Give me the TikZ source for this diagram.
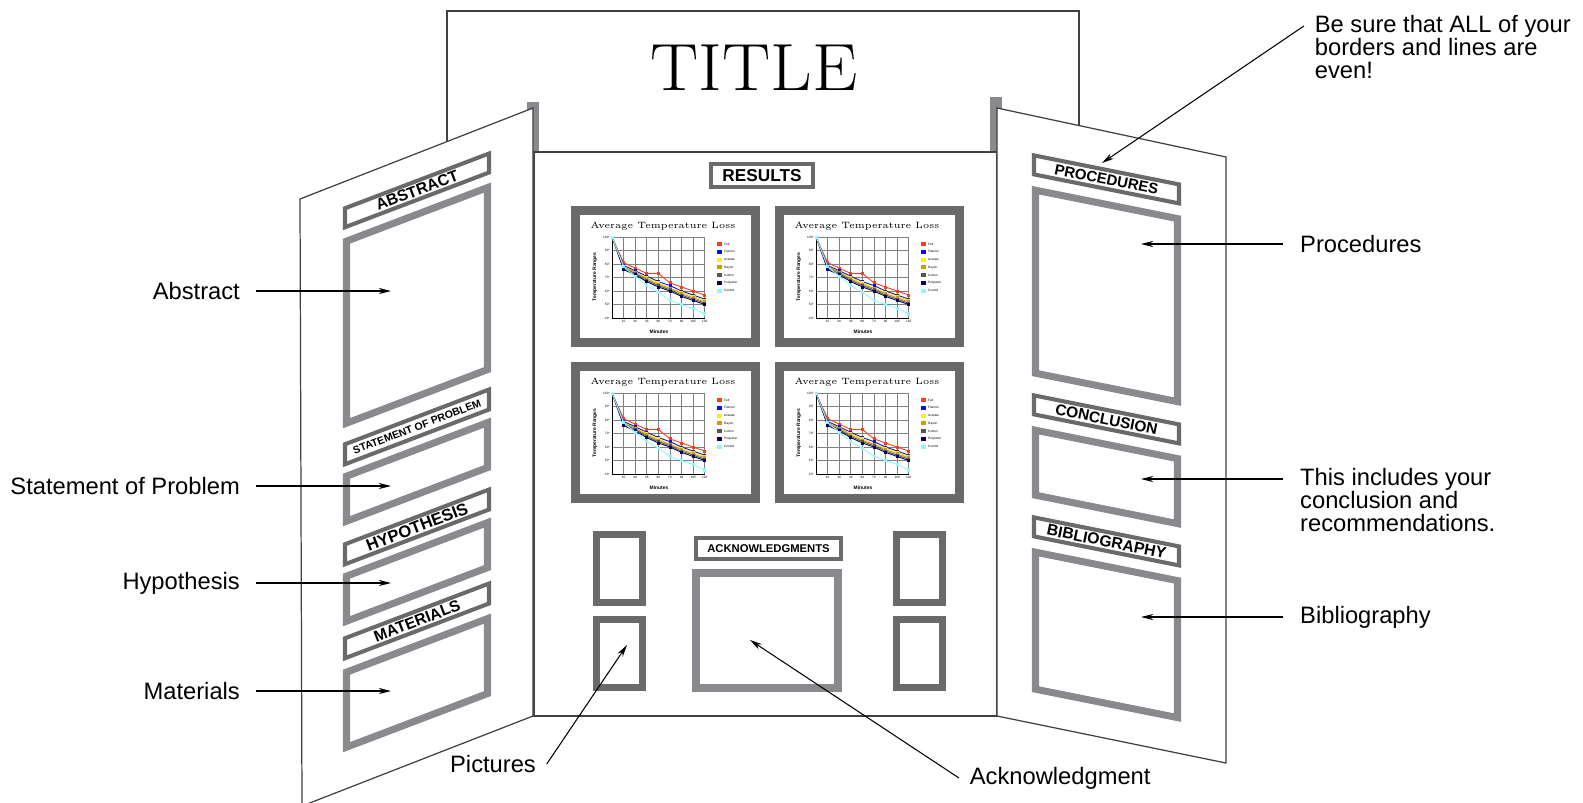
\documentclass[tikz,border=0pt]{standalone}
\usepackage{fontspec}
\setsansfont{Liberation Sans}
\usetikzlibrary{arrows.meta,plotmarks}
\definecolor{framegray}{HTML}{8A8A8E}
\definecolor{darkframe}{HTML}{6A6A6A}
\definecolor{edgegray}{HTML}{404040}
\definecolor{felt}{HTML}{FF3B1F}
\definecolor{flannel}{HTML}{0010FF}
\definecolor{acetate}{HTML}{FFF200}
\definecolor{rayon}{HTML}{D09A00}
\definecolor{cotton}{HTML}{555555}
\definecolor{polyester}{HTML}{000066}
\definecolor{control}{HTML}{8CF8FF}

\tikzset{
  tempchart/.pic={
    \draw[darkframe,line width=5.1pt,fill=white] (4.5,4.5) rectangle (184.5,136.5);
    \node[font=\rmfamily\fontsize{5.2}{6}\selectfont] at (92,20) {Average Temperature Loss};
    \node[font=\sffamily\bfseries\fontsize{2.8}{3}\selectfont,rotate=90] at (24,71) {Temperature Ranges};
    \node[font=\sffamily\bfseries\fontsize{2.8}{3}\selectfont] at (88,126) {Minutes};
    \foreach \k in {0,...,8}
      \draw[gray,line width=0.5pt] ({41+11.6*\k},31) -- ({41+11.6*\k},112);
    \foreach \k in {0,...,6}
      \draw[gray,line width=0.5pt] (41,{31+13.5*\k}) -- (133.8,{31+13.5*\k});
    \draw[black,line width=0.4pt] (41,31) -- (41,112) -- (133.8,112);
    \foreach \k [evaluate=\k as \t using int(100-10*\k)] in {0,...,6}
      \node[font=\sffamily\fontsize{1.8}{2}\selectfont,anchor=east,inner sep=0.5pt] at (40,{31+13.5*\k}) {\t°};
    \foreach \k [evaluate=\k as \m using int(15*\k)] in {1,...,8}
      \node[font=\sffamily\fontsize{1.8}{2}\selectfont,inner sep=0.5pt] at ({41+11.6*\k},115.5) {\m};
    \begin{scope}[shift={(41,166)},x=0.01547cm,y=0.027cm,line width=0.5pt,mark size=0.6pt]
      \draw[felt,mark=square*] plot coordinates {(0,100) (15,81) (30,77) (45,73) (60,73) (75,66) (90,63) (105,60) (120,57)};
      \draw[flannel,mark=square*] plot coordinates {(0,100) (15,79) (30,75) (45,71) (60,67) (75,64) (90,60) (105,57) (120,54)};
      \draw[acetate,mark=square*] plot coordinates {(0,100) (15,78) (30,74) (45,70) (60,66) (75,62) (90,59) (105,56) (120,53)};
      \draw[rayon,mark=square*] plot coordinates {(0,100) (15,78) (30,74) (45,69) (60,65) (75,62) (90,58) (105,55) (120,52)};
      \draw[cotton,mark=square*] plot coordinates {(0,100) (15,77) (30,73) (45,68) (60,64) (75,61) (90,57) (105,54) (120,51)};
      \draw[polyester,mark=square*] plot coordinates {(0,100) (15,76) (30,72) (45,67) (60,63) (75,60) (90,56) (105,53) (120,50)};
      \draw[control,mark=square*] plot coordinates {(0,100) (15,78) (30,71) (45,64) (60,59) (75,53) (90,50) (105,47) (120,43)};
    \end{scope}
    \foreach \c/\s [count=\k from 0] in {felt/Felt,flannel/Flannel,acetate/Acetate,rayon/Rayon,cotton/Cotton,polyester/Polyester,control/Control}{
      \fill[\c] (146,{36+7.8*\k}) rectangle ++(5,4);
      \node[font=\sffamily\fontsize{1.8}{2}\selectfont,anchor=west,inner sep=0.5pt] at (152,{38+7.8*\k}) {\s};
    }
  }
}

\begin{document}
\begin{tikzpicture}[x=0.02cm,y=-0.02cm,
board/.style={draw=edgegray,fill=white,line width=0.7pt},
tagbox/.style={draw=darkframe,line width=2.3pt},
mainbox/.style={draw=framegray,line width=4pt},
picbox/.style={draw=darkframe,line width=4pt},
tagtext/.style={font=\sffamily\bfseries\fontsize{#1}{#1}\selectfont,inner sep=0pt},
note/.style={font=\sffamily\fontsize{13.5}{13.3}\selectfont,align=left,inner xsep=6pt,inner ysep=0pt},
leftnote/.style={note,inner xsep=9pt,anchor=east},
rightnote/.style={note,inner xsep=9.6pt,anchor=west},
pointer/.style={-{Stealth[length=7pt,width=3.5pt]},line width=0.6pt}]

% back board with the title
\draw[board] (447,11) rectangle (1079,300);
\node[font=\rmfamily\fontsize{38}{40}\selectfont,anchor=base,xscale=1.08] (title) at (754,90) {TITLE};
\fill[framegray] (527,102) rectangle (539,152);
\fill[framegray] (990,97) rectangle (1002,152);

% centre panel
\draw[board] (534,152) rectangle (997,716);
\draw[tagbox] (711,164) rectangle (813,187);
\node[tagtext=9.8] (results) at (762,175.5) {RESULTS};
\pic at (571,206) {tempchart};
\pic at (775,206) {tempchart};
\pic at (571,362) {tempchart};
\pic at (775,362) {tempchart};
\draw[picbox] (596.5,534.5) rectangle (642.5,602.5);
\draw[picbox] (596.5,619.5) rectangle (642.5,687.5);
\draw[picbox] (896.5,534.5) rectangle (942.5,602.5);
\draw[picbox] (896.5,619.5) rectangle (942.5,687.5);
\draw[tagbox,line width=2pt] (696,538) rectangle (841,559);
\node[tagtext=6.4] (ack) at (768.5,548.5) {ACKNOWLEDGMENTS};
\draw[mainbox,line width=4.5pt] (696,573) rectangle (838,688);

% left panel
\draw[board] (300,199) -- (533,108) -- (533,716) -- (302,806) -- cycle;
\begin{scope}[shift={(343,0)},yslant=0.38]
  \draw[tagbox] (2,209) rectangle (146,228);
  \node[tagtext=9,rotate=20.8] (abstract) at (74,218.5) {ABSTRACT};
  \draw[mainbox] (3.5,242.5) rectangle (144.5,424.5);
  \draw[tagbox] (2,445) rectangle (146,465);
  \node[tagtext=6,rotate=20.8] (statement) at (74,455) {STATEMENT OF PROBLEM};
  \draw[mainbox] (3.5,477.5) rectangle (144.5,522.5);
  \draw[tagbox] (2,545) rectangle (146,565);
  \node[tagtext=9.5,rotate=20.8] (hypothesis) at (74,555) {HYPOTHESIS};
  \draw[mainbox] (3.5,577.5) rectangle (144.5,622.5);
  \draw[tagbox] (2,639) rectangle (146,659);
  \node[tagtext=9,rotate=20.8] (materials) at (74,649) {MATERIALS};
  \draw[mainbox] (3.5,673.5) rectangle (144.5,748.5);
\end{scope}

% right panel
\draw[board] (997,108) -- (1226,157) -- (1226,763) -- (997,716) -- cycle;
\begin{scope}[shift={(1032,0)},yslant=-0.2]
  \draw[tagbox] (2,155) rectangle (147,174);
  \node[tagtext=8.5,rotate=-11.3] (procedures) at (74.5,164.5) {PROCEDURES};
  \draw[mainbox] (3.5,189.5) rectangle (145.5,372.5);
  \draw[tagbox] (2,395) rectangle (147,414);
  \node[tagtext=8.8,rotate=-11.3] (conclusion) at (74.5,404.5) {CONCLUSION};
  \draw[mainbox] (3.5,429.5) rectangle (145.5,494.5);
  \draw[tagbox] (2,517) rectangle (147,536);
  \node[tagtext=9,rotate=-11.3] (bibliography) at (74.5,526.5) {BIBLIOGRAPHY};
  \draw[mainbox] (3.5,551.5) rectangle (145.5,688.5);
\end{scope}

% notes and pointers
\coordinate (abstracttip) at (391,291);
\coordinate (statementtip) at (391,486);
\coordinate (hypothesistip) at (391,583);
\coordinate (materialstip) at (391,691);
\coordinate (procedurestip) at (1141,244);
\coordinate (conclusiontip) at (1141,479);
\coordinate (bibliographytip) at (1141,617);
\coordinate (suretip) at (1102,163);
\coordinate (picturestip) at (627,645);
\coordinate (acktip) at (750,640);

\node[leftnote] (abstractnote) at (256,291) {Abstract};
\node[leftnote] (statementnote) at (256,486) {Statement of Problem};
\node[leftnote] (hypothesisnote) at (256,583) {Hypothesis};
\node[leftnote] (materialsnote) at (256,691) {Materials};
\draw[pointer] (abstractnote.east) -- (abstracttip);
\draw[pointer] (statementnote.east) -- (statementtip);
\draw[pointer] (hypothesisnote.east) -- (hypothesistip);
\draw[pointer] (materialsnote.east) -- (materialstip);

\node[rightnote] (proceduresnote) at (1283,244) {Procedures};
\node[rightnote,anchor=north west] (conclusionnote) at (1283,467.5) {This includes your\\conclusion and\\recommendations.};
\node[rightnote] (bibliographynote) at (1283,617) {Bibliography};
\node[note,anchor=north west] (surenote) at (1304,14.5) {Be sure that ALL of your\\borders and lines are\\even!};
\draw[pointer] (proceduresnote.west) -- (procedurestip);
\draw[pointer] (conclusionnote.west |- conclusiontip) -- (conclusiontip);
\draw[pointer] (bibliographynote.west) -- (bibliographytip);
\draw[pointer] ([yshift=-6.5pt]surenote.north west) -- (suretip);

\node[note] (picturesnote) at (493,764) {Pictures};
\node[note,anchor=west] (acknote) at (959,778) {Acknowledgment};
\draw[pointer] (picturesnote.east) -- (picturestip);
\draw[pointer] (acknote.west) -- (acktip);

% fix the page to the picture frame
\pgfresetboundingbox
\useasboundingbox (0,0) rectangle (1583,802);
\end{tikzpicture}
\end{document}
